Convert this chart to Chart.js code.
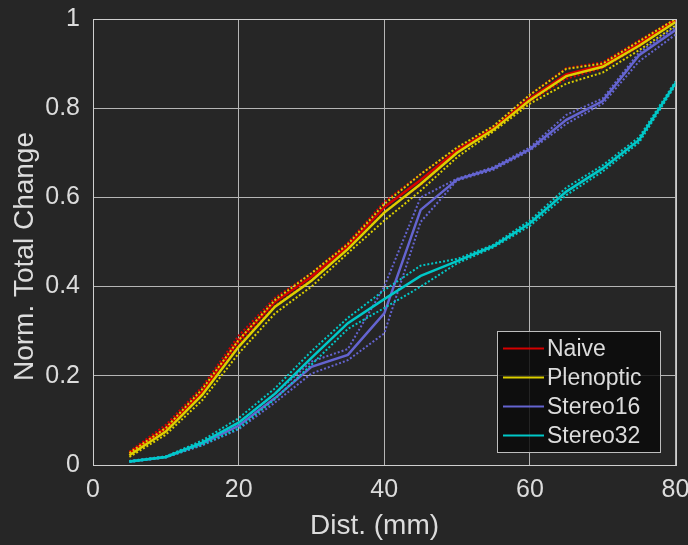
<!DOCTYPE html>
<html>
<head>
<meta charset="utf-8">
<script src="https://cdn.jsdelivr.net/npm/chart.js@4/dist/chart.umd.min.js"></script>
<style>
  html, body { margin: 0; padding: 0; background: #262626; }
  #wrap { width: 688px; height: 545px; }
</style>
</head>
<body>
<div id="wrap"><canvas id="c" width="688" height="545"></canvas></div>
<script>
// Distance samples (mm)
const dist = [5, 10, 15, 20, 25, 30, 35, 40, 45, 50, 55, 60, 65, 70, 75, 80];

// Mean normalised total change per method, with upper / lower bounds
const naive      = [0.027, 0.083, 0.165, 0.280, 0.366, 0.422, 0.491, 0.578, 0.639, 0.705, 0.755, 0.822, 0.876, 0.897, 0.945, 0.998];
const naiveHi    = [0.030, 0.090, 0.175, 0.290, 0.375, 0.430, 0.498, 0.590, 0.652, 0.710, 0.758, 0.830, 0.890, 0.903, 0.952, 1.000];
const naiveLo    = [0.024, 0.078, 0.158, 0.272, 0.358, 0.415, 0.485, 0.568, 0.628, 0.700, 0.752, 0.815, 0.866, 0.890, 0.938, 0.995];

const plenoptic   = [0.022, 0.075, 0.157, 0.265, 0.355, 0.413, 0.484, 0.566, 0.630, 0.700, 0.752, 0.818, 0.872, 0.893, 0.940, 0.993];
const plenopticHi = [0.027, 0.083, 0.170, 0.280, 0.370, 0.430, 0.495, 0.585, 0.652, 0.712, 0.760, 0.830, 0.888, 0.900, 0.950, 1.000];
const plenopticLo = [0.018, 0.068, 0.145, 0.250, 0.340, 0.400, 0.475, 0.548, 0.615, 0.690, 0.748, 0.810, 0.855, 0.880, 0.930, 0.985];

const stereo16   = [0.008, 0.018, 0.048, 0.088, 0.150, 0.220, 0.247, 0.340, 0.572, 0.640, 0.665, 0.708, 0.774, 0.816, 0.919, 0.975];
const stereo16Hi = [0.009, 0.019, 0.052, 0.095, 0.160, 0.232, 0.260, 0.400, 0.600, 0.642, 0.668, 0.712, 0.785, 0.822, 0.925, 0.982];
const stereo16Lo = [0.007, 0.017, 0.044, 0.080, 0.140, 0.205, 0.235, 0.295, 0.545, 0.638, 0.662, 0.705, 0.765, 0.810, 0.905, 0.965];

const stereo32   = [0.008, 0.018, 0.050, 0.095, 0.160, 0.240, 0.318, 0.372, 0.424, 0.457, 0.491, 0.542, 0.613, 0.665, 0.729, 0.856];
const stereo32Hi = [0.009, 0.019, 0.055, 0.105, 0.172, 0.255, 0.330, 0.392, 0.447, 0.462, 0.494, 0.548, 0.622, 0.672, 0.735, 0.860];
const stereo32Lo = [0.007, 0.017, 0.045, 0.082, 0.148, 0.225, 0.305, 0.352, 0.400, 0.452, 0.488, 0.536, 0.605, 0.658, 0.723, 0.852];

const xTicks = [0, 20, 40, 60, 80];
const yTicks = [0, 0.2, 0.4, 0.6, 0.8, 1];
const xTitle = 'Dist. (mm)';
const yTitle = 'Norm. Total Change';

const FONT = "'Liberation Sans', Arial, Helvetica, sans-serif";
const TEXT = '#dcdcdc';

const pts = arr => arr.map((v, i) => ({ x: dist[i], y: v }));

function series(label, color, mean, hi, lo, z) {
  const dotted = (vals) => ({
    label: label + ' bound', data: pts(vals), borderColor: color, borderWidth: 2,
    borderDash: [2, 2], pointRadius: 0, fill: false, tension: 0, order: z, legendHide: true
  });
  return [
    { label, data: pts(mean), borderColor: color, borderWidth: 2.5, pointRadius: 0, fill: false, tension: 0, order: z },
    dotted(hi),
    dotted(lo)
  ];
}

const datasets = [
  ...series('Naive', '#d40000', naive, naiveHi, naiveLo, 8),
  ...series('Plenoptic', '#dccf00', plenoptic, plenopticHi, plenopticLo, 6),
  ...series('Stereo16', '#6464d0', stereo16, stereo16Hi, stereo16Lo, 4),
  ...series('Stereo32', '#00c8c8', stereo32, stereo32Hi, stereo32Lo, 2)
];

// Box around the plot area, axis titles and an inset legend
const framePlugin = {
  id: 'frame',
  afterDatasetsDraw(chart) {
    const { ctx, chartArea: a } = chart;
    ctx.save();
    ctx.strokeStyle = '#cfcfcf';
    ctx.lineWidth = 1;
    ctx.strokeRect(Math.round(a.left) + 0.5, Math.round(a.top) + 0.5,
                   Math.round(a.right - a.left), Math.round(a.bottom - a.top));

    // axis titles
    ctx.fillStyle = TEXT;
    ctx.font = '28px ' + FONT;
    ctx.textAlign = 'center';
    ctx.textBaseline = 'alphabetic';
    ctx.fillText(xTitle, 374.5, 533.5);
    ctx.save();
    ctx.translate(33.3, 256.5);
    ctx.rotate(-Math.PI / 2);
    ctx.fillText(yTitle, 0, 0);
    ctx.restore();

    // legend
    const entries = chart.data.datasets.filter(d => !d.legendHide);
    const bx = 497, by = 331, bw = 163, bh = 121;
    ctx.fillStyle = 'rgba(10,10,10,0.85)';
    ctx.fillRect(bx, by, bw, bh);
    ctx.strokeStyle = '#bdbdbd';
    ctx.lineWidth = 1;
    ctx.strokeRect(bx + 0.5, by + 0.5, bw, bh);
    ctx.font = '23px ' + FONT;
    ctx.textBaseline = 'middle';
    ctx.textAlign = 'left';
    entries.forEach((d, i) => {
      const y = 348.5 + i * 29;
      ctx.strokeStyle = d.borderColor;
      ctx.lineWidth = 2.2;
      ctx.beginPath();
      ctx.moveTo(503, y);
      ctx.lineTo(544, y);
      ctx.stroke();
      ctx.fillStyle = TEXT;
      ctx.fillText(d.label, 547, y + 1);
    });
    ctx.restore();
  }
};

new Chart(document.getElementById('c'), {
  type: 'line',
  data: { datasets },
  plugins: [framePlugin],
  options: {
    responsive: false,
    animation: false,
    layout: { padding: { top: 19, right: 12.5, left: 0, bottom: 0 } },
    plugins: { legend: { display: false }, tooltip: { enabled: false } },
    scales: {
      x: {
        type: 'linear', min: 0, max: 80,
        afterBuildTicks: s => { s.ticks = xTicks.map(v => ({ value: v })); },
        afterFit: s => { s.height = 80; s.paddingLeft = 0; s.paddingRight = 0; },
        grid: { color: '#b5b5b5', lineWidth: 1, drawTicks: false },
        border: { display: false },
        ticks: { color: TEXT, font: { family: FONT, size: 25 }, padding: 10, maxRotation: 0,
                 callback: v => String(v) },
        title: { display: false }
      },
      y: {
        type: 'linear', min: 0, max: 1,
        afterBuildTicks: s => { s.ticks = yTicks.map(v => ({ value: v })); },
        afterFit: s => { s.width = 93; s.paddingTop = 0; s.paddingBottom = 0; },
        grid: { color: '#b5b5b5', lineWidth: 1, drawTicks: false },
        border: { display: false },
        ticks: { color: TEXT, font: { family: FONT, size: 25 }, padding: 13,
                 callback: v => String(Math.round(v * 10) / 10) },
        title: { display: false }
      }
    }
  }
});
</script>
</body>
</html>
